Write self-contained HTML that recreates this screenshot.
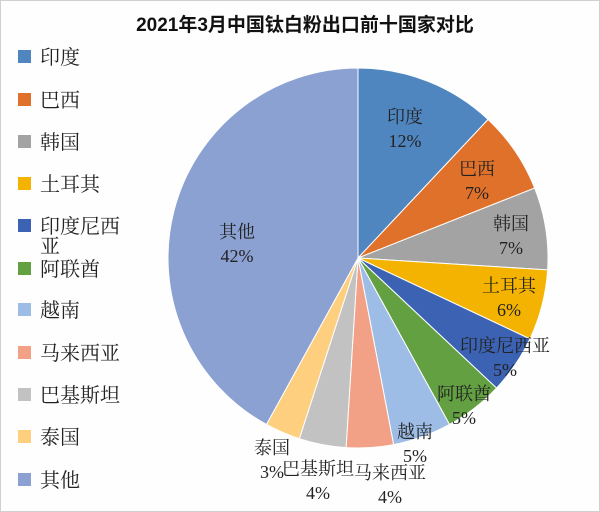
<!DOCTYPE html>
<html><head><meta charset="utf-8"><style>
body{margin:0;background:#fff;}
svg{display:block;font-family:"Liberation Serif","Noto Serif CJK SC",serif;}
</style></head><body>
<svg id="s" width="600" height="512" viewBox="0 0 600 512" xmlns="http://www.w3.org/2000/svg">
<rect x="0.5" y="0.5" width="599" height="511" fill="#fefefe" stroke="#d0d0d0"/>
<text x="305" y="31" text-anchor="middle" font-family="Liberation Sans,Noto Sans CJK SC,sans-serif" font-weight="bold" font-size="19" fill="#111">2021年3月中国钛白粉出口前十国家对比</text>
<g id="pie"></g>
<g id="leg" font-size="20" fill="#222"></g>
<g id="lab" font-size="18" fill="#222" text-anchor="middle"></g>
</svg>
<script>
var d=[["印度",12,"#4f86c0"],["巴西",7,"#e0712a"],["韩国",7,"#a3a3a3"],["土耳其",6,"#f3b300"],["印度尼西亚",5,"#3b62b3"],["阿联酋",5,"#63a041"],["越南",5,"#9dbde6"],["马来西亚",4,"#f2a186"],["巴基斯坦",4,"#c2c2c2"],["泰国",3,"#fdcf7e"],["其他",42,"#8ba1d2"]];
var cx=358,cy=258,r=190,a=0,ns="http://www.w3.org/2000/svg";
var pie=document.getElementById("pie"),leg=document.getElementById("leg");
var labs=[[405,123],[477,175],[511,230],[509,292],[505,352],[464,400],[415,438],[390,479],[318,475],[272,454],[237,238]];
var ys=[57,100,142,184,226,269,310,353,395,437,480];
d.forEach(function(e,i){
 var a0=a/100*2*Math.PI,a1=(a+e[1])/100*2*Math.PI;a+=e[1];
 var x0=cx+r*Math.sin(a0),y0=cy-r*Math.cos(a0),x1=cx+r*Math.sin(a1),y1=cy-r*Math.cos(a1);
 var p=document.createElementNS(ns,"path");
 p.setAttribute("d","M"+cx+","+cy+"L"+x0+","+y0+"A"+r+","+r+" 0 "+(e[1]>50?1:0)+" 1 "+x1+","+y1+"Z");
 p.setAttribute("fill",e[2]);p.setAttribute("stroke","#fff");p.setAttribute("stroke-width","1");
 pie.appendChild(p);
 var s=document.createElementNS(ns,"rect");
 s.setAttribute("x",18);s.setAttribute("y",ys[i]-7);s.setAttribute("width",13);s.setAttribute("height",13);s.setAttribute("fill",e[2]);
 leg.appendChild(s);
 var t=document.createElementNS(ns,"text");t.setAttribute("x",40);t.setAttribute("y",ys[i]+7);
 t.textContent=i==4?"印度尼西":e[0];leg.appendChild(t);
 if(i==4){var t2=document.createElementNS(ns,"text");t2.setAttribute("x",40);t2.setAttribute("y",ys[i]+27);t2.textContent="亚";leg.appendChild(t2);}
 var L=labs[i],g=document.getElementById("lab");
 var n=document.createElementNS(ns,"text");n.setAttribute("x",L[0]);n.setAttribute("y",L[1]);n.textContent=e[0];g.appendChild(n);
 var m=document.createElementNS(ns,"text");m.setAttribute("x",L[0]);m.setAttribute("y",L[1]+24);m.textContent=e[1]+"%";g.appendChild(m);
});
</script>
</body></html>
